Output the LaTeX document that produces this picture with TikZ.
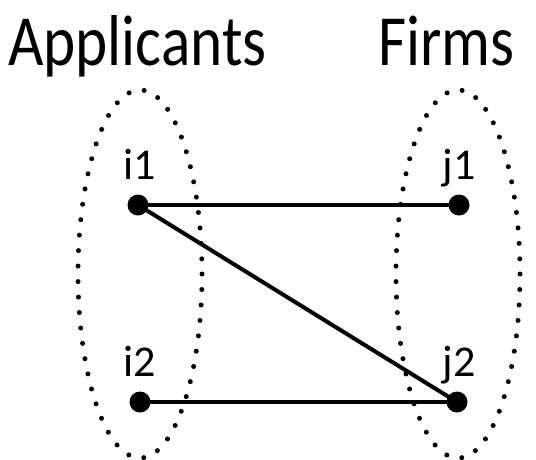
\documentclass[tikz,border=0pt]{standalone}
\usepackage{fontspec}
\setmainfont{Carlito}
\begin{document}
\begin{tikzpicture}[x=1pt,y=-1pt,
  vert/.style={circle,fill=black,inner sep=0pt,minimum size=21pt},
  grp/.style={draw,line width=5pt,line cap=round,dash pattern=on 0pt off 15.5pt},
  edge/.style={line width=4pt},
  lbl/.style={font=\fontsize{44}{44}\selectfont,inner sep=0pt},
  head/.style={font=\fontsize{72}{72}\selectfont,inner sep=0pt}]
\useasboundingbox (0,0) rectangle (536,459);
\draw[grp] (140,274) ellipse [x radius=62, y radius=184];
\draw[grp] (458,274) ellipse [x radius=62, y radius=184];
\node[head,anchor=base west,xscale=0.85] (app) at (8,65) {Applicants};
\node[head,anchor=base west,xscale=0.85] (firms) at (378,65) {Firms};
\node[vert] (i1) at (138,205) {};
\node[vert] (i2) at (140,402) {};
\node[vert] (j1) at (459,205) {};
\node[vert] (j2) at (457,402) {};
\node[lbl,anchor=base] (li1) at (140,179) {i1};
\node[lbl,anchor=base] (li2) at (140,376) {i2};
\node[lbl,anchor=base] (lj1) at (459,179) {j1};
\node[lbl,anchor=base] (lj2) at (459,376) {j2};
\draw[edge] (i1.center) -- (j1.center);
\draw[edge] (i1.center) -- (j2.center);
\draw[edge] (i2.center) -- (j2.center);
\end{tikzpicture}
\end{document}
